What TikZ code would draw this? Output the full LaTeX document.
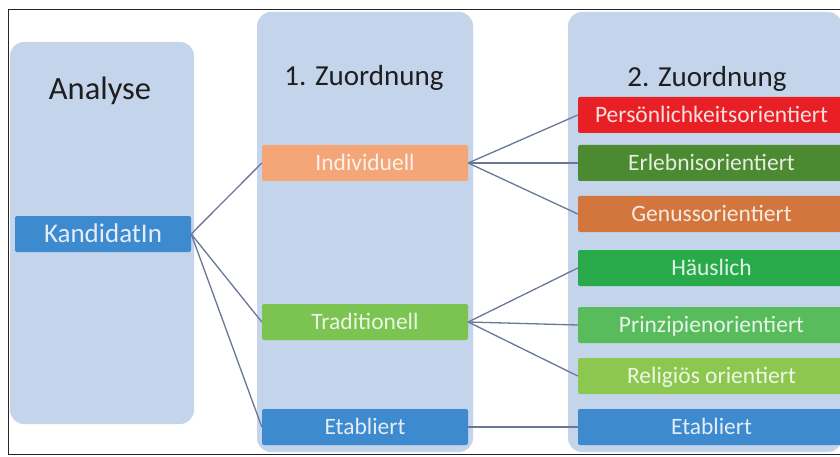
\documentclass[tikz,border=0pt]{standalone}
\usepackage{fontspec}
\setmainfont{Carlito}
\definecolor{panelc}{RGB}{196,213,235}
\definecolor{linkc}{RGB}{104,120,150}
\definecolor{cblue}{RGB}{62,138,206}
\definecolor{cpeach}{RGB}{244,166,120}
\definecolor{cgreen}{RGB}{124,196,82}
\definecolor{cred}{RGB}{232,32,38}
\definecolor{cdkgreen}{RGB}{76,138,50}
\definecolor{cbrown}{RGB}{210,118,62}
\definecolor{chaus}{RGB}{40,170,75}
\definecolor{cprinz}{RGB}{88,188,92}
\definecolor{crelig}{RGB}{140,200,80}
\definecolor{ctitle}{RGB}{30,30,30}
\begin{document}
\begin{tikzpicture}[x=1pt,y=-1pt,
  panel/.style={rectangle, fill=panelc, rounded corners=14pt, inner sep=0pt},
  head/.style={anchor=base, text=ctitle, inner sep=0pt},
  box/.style={rectangle, rounded corners=2pt, inner sep=0pt, fill=#1, text=white!85!#1,
    text height=15pt, text depth=0pt, font=\fontsize{23.5}{23.5}\selectfont},
  col3/.style={box=#1, minimum width=267pt, minimum height=36pt},
  col2/.style={box=#1, minimum width=206pt, minimum height=36pt},
  link/.style={draw=linkc, line width=1.3pt}]
\useasboundingbox (0,0) rectangle (840,457);
\clip (0,0) rectangle (840,457);
\fill[white] (0,0) rectangle (840,457);
% panels
\node[panel, minimum width=184pt, minimum height=382pt] (p1) at (102,233) {};
\node[panel, minimum width=216pt, minimum height=440pt] (p2) at (365,232) {};
\node[panel, minimum width=274pt, minimum height=440pt] (p3) at (705,232) {};
% frame
\draw[line width=1pt, black!85] (842,10) -- (8,10) -- (8,454) -- (842,454);
% headers
\node[head, font=\fontsize{32.5}{32.5}\selectfont] (h1) at (100,100) {Analyse};
\node[head, font=\fontsize{29}{29}\selectfont] (h2) at (364,86) {1. Zuordnung};
\node[head, font=\fontsize{29}{29}\selectfont] (h3) at (707,87) {2. Zuordnung};
% boxes
\node[box=cblue, minimum width=176pt, minimum height=36pt, text height=17pt, font=\fontsize{27}{27}\selectfont] (kand) at (103,234) {KandidatIn};
\node[col2=cpeach] (ind) at (365,163) {Individuell};
\node[col2=cgreen] (trad) at (365,322) {Traditionell};
\node[col2=cblue] (etab2) at (365,427) {Etabliert};
\node[col3=cred] (pers) at (711.5,115) {Persönlichkeitsorientiert};
\node[col3=cdkgreen] (erl) at (711.5,163) {Erlebnisorientiert};
\node[col3=cbrown] (gen) at (711.5,214) {Genussorientiert};
\node[col3=chaus] (haus) at (711.5,268) {Häuslich};
\node[col3=cprinz] (prinz) at (711.5,325) {Prinzipienorientiert};
\node[col3=crelig] (rel) at (711.5,376) {Religiös orientiert};
\node[col3=cblue] (etab3) at (711.5,427) {Etabliert};
% links
\draw[link] (kand.east) -- (ind.west);
\draw[link] (kand.east) -- (trad.west);
\draw[link] (kand.east) -- (etab2.west);
\draw[link] (ind.east) -- (pers.west);
\draw[link] (ind.east) -- (erl.west);
\draw[link] (ind.east) -- (gen.west);
\draw[link] (trad.east) -- (haus.west);
\draw[link] (trad.east) -- (prinz.west);
\draw[link] (trad.east) -- (rel.west);
\draw[link] (etab2.east) -- (etab3.west);
\end{tikzpicture}
\end{document}
